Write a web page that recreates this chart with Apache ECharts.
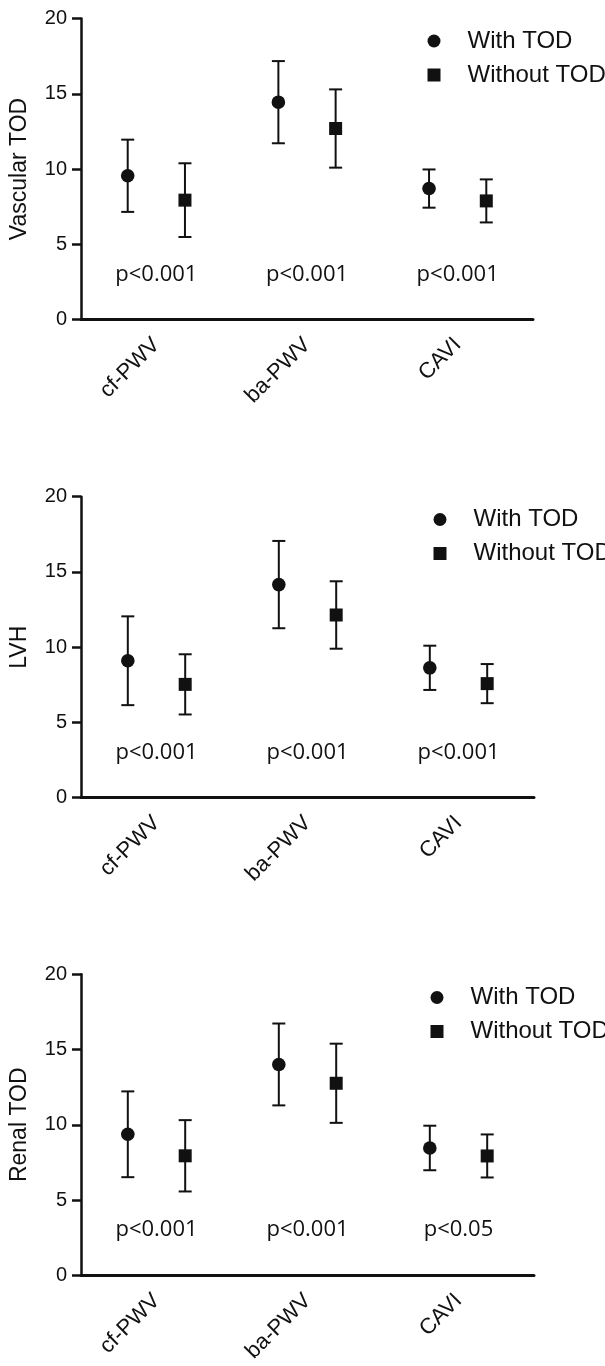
<!DOCTYPE html>
<html lang="en">

<head>
    <meta charset="utf-8">
    <title>TOD panels</title>
    <script type="text/javascript" src="https://cdn.jsdelivr.net/npm/echarts@6/dist/echarts.min.js"></script>
    <style>
        html, body { margin: 0; padding: 0; background: #fff; }
        #Chart { width: 605px; height: 1366px; }
    </style>
</head>

<body>
    <div id="Chart"></div>
    <script type="text/javascript">
        // data: mean and SD per group
        const categories = ['cf-PWV', 'ba-PWV', 'CAVI'];
        const groupNames = ['With TOD', 'Without TOD'];
        const yTickLabels = [0, 5, 10, 15, 20];
        const panelNames = ['Vascular TOD', 'LVH', 'Renal TOD'];

        const vascularWithMean = [9.55, 14.44, 8.70];
        const vascularWithSd = [2.40, 2.73, 1.27];
        const vascularWithoutMean = [7.93, 12.69, 7.88];
        const vascularWithoutSd = [2.45, 2.60, 1.43];
        const vascularP = ['p<0.001', 'p<0.001', 'p<0.001'];

        const lvhWithMean = [9.10, 14.16, 8.63];
        const lvhWithSd = [2.95, 2.90, 1.47];
        const lvhWithoutMean = [7.53, 12.14, 7.58];
        const lvhWithoutSd = [2.00, 2.24, 1.30];
        const lvhP = ['p<0.001', 'p<0.001', 'p<0.001'];

        const renalWithMean = [9.37, 14.01, 8.46];
        const renalWithSd = [2.85, 2.72, 1.48];
        const renalWithoutMean = [7.94, 12.76, 7.93];
        const renalWithoutSd = [2.37, 2.63, 1.43];
        const renalP = ['p<0.001', 'p<0.001', 'p<0.05'];

        const pLabelY = 3;

        const panels = [
            { name: panelNames[0], withMean: vascularWithMean, withSd: vascularWithSd, withoutMean: vascularWithoutMean, withoutSd: vascularWithoutSd, p: vascularP },
            { name: panelNames[1], withMean: lvhWithMean, withSd: lvhWithSd, withoutMean: lvhWithoutMean, withoutSd: lvhWithoutSd, p: lvhP },
            { name: panelNames[2], withMean: renalWithMean, withSd: renalWithSd, withoutMean: renalWithoutMean, withoutSd: renalWithoutSd, p: renalP }
        ];

        // pixel layout of each panel
        const layout = [
            { top: 18.5, left: 80, right: 72, legendLeft: 422.5, legendTop: 24 },
            { top: 496.7, left: 81, right: 71, legendLeft: 428.5, legendTop: 502.5 },
            { top: 974.3, left: 80, right: 71, legendLeft: 425.5, legendTop: 980.5 }
        ];
        const gridHeight = 301;
        const ink = '#111';
        const sansFont = '"Liberation Sans", Arial, sans-serif';

        function errorBarData(means, sds) {
            return means.map(function (m, i) {
                return [i, m, m - sds[i], m + sds[i]];
            });
        }

        function renderGroup(shape, offsetFrac) {
            return function (params, api) {
                const cat = api.value(0);
                const mid = api.coord([cat, api.value(1)]);
                const lo = api.coord([cat, api.value(2)]);
                const hi = api.coord([cat, api.value(3)]);
                const x = mid[0] + api.size([1, 0])[0] * offsetFrac;
                const line = { stroke: ink, lineWidth: 2 };
                const cap = 6.5;
                const children = [
                    { type: 'line', shape: { x1: x, y1: hi[1], x2: x, y2: lo[1] }, style: line },
                    { type: 'line', shape: { x1: x - cap, y1: hi[1], x2: x + cap, y2: hi[1] }, style: line },
                    { type: 'line', shape: { x1: x - cap, y1: lo[1], x2: x + cap, y2: lo[1] }, style: line }
                ];
                if (shape === 'circle') {
                    children.push({ type: 'circle', shape: { cx: x, cy: mid[1], r: 6.8 }, style: { fill: ink } });
                } else {
                    children.push({ type: 'rect', shape: { x: x - 6.5, y: mid[1] - 6.5, width: 13, height: 13 }, style: { fill: ink } });
                }
                return { type: 'group', children: children };
            };
        }

        function renderPLabel(labels) {
            return function (params, api) {
                const pt = api.coord([api.value(0), api.value(1)]);
                return {
                    type: 'text',
                    x: pt[0],
                    y: pt[1],
                    style: {
                        text: labels[params.dataIndex],
                        fill: ink,
                        font: '22px "Open Sans", sans-serif',
                        align: 'center',
                        verticalAlign: 'middle'
                    }
                };
            };
        }

        const grids = [], xAxes = [], yAxes = [], legends = [], series = [];

        panels.forEach(function (panel, k) {
            const lay = layout[k];
            grids.push({ left: lay.left, right: lay.right, top: lay.top, height: gridHeight, containLabel: false });

            xAxes.push({
                type: 'category',
                gridIndex: k,
                data: categories,
                boundaryGap: true,
                axisLine: { lineStyle: { color: ink, width: 3 } },
                axisTick: { alignWithLabel: true, length: 9, lineStyle: { color: ink, width: 3 } },
                axisLabel: { rotate: 45, margin: 22, color: ink, fontSize: 22, fontFamily: sansFont },
                splitLine: { show: false }
            });

            yAxes.push({
                type: 'value',
                gridIndex: k,
                min: yTickLabels[0],
                max: yTickLabels[yTickLabels.length - 1],
                interval: yTickLabels[1] - yTickLabels[0],
                name: panel.name,
                nameLocation: 'middle',
                nameGap: 50,
                nameTextStyle: { color: ink, fontSize: 23, fontFamily: sansFont },
                axisLine: { show: true, lineStyle: { color: ink, width: 2.5 } },
                axisTick: { show: true, length: 9, lineStyle: { color: ink, width: 2.5 } },
                axisLabel: { margin: 14, color: ink, fontSize: 20, fontFamily: sansFont },
                splitLine: { show: false }
            });

            legends.push({
                orient: 'vertical',
                left: lay.legendLeft,
                top: lay.legendTop,
                itemWidth: 13,
                itemHeight: 13,
                itemGap: 10,
                selectedMode: false,
                textStyle: { color: ink, fontSize: 24, lineHeight: 24, fontFamily: sansFont, padding: [0, 0, 0, 22] },
                data: [
                    { name: groupNames[0], icon: 'circle' },
                    { name: groupNames[1], icon: 'rect' }
                ]
            });

            series.push({
                type: 'custom',
                name: groupNames[0],
                xAxisIndex: k,
                yAxisIndex: k,
                itemStyle: { color: ink },
                renderItem: renderGroup('circle', -0.19),
                encode: { x: 0, y: [1, 2, 3] },
                data: errorBarData(panel.withMean, panel.withSd),
                clip: false,
                silent: true
            });
            series.push({
                type: 'custom',
                name: groupNames[1],
                xAxisIndex: k,
                yAxisIndex: k,
                itemStyle: { color: ink },
                renderItem: renderGroup('rect', 0.19),
                encode: { x: 0, y: [1, 2, 3] },
                data: errorBarData(panel.withoutMean, panel.withoutSd),
                clip: false,
                silent: true
            });
            series.push({
                type: 'custom',
                name: 'p',
                xAxisIndex: k,
                yAxisIndex: k,
                renderItem: renderPLabel(panel.p),
                encode: { x: 0, y: 1 },
                data: categories.map(function (c, i) { return [i, pLabelY]; }),
                silent: true
            });
        });

        const chart = echarts.init(document.getElementById('Chart'), null, { renderer: 'canvas' });
        chart.setOption({
            animation: false,
            backgroundColor: '#fff',
            grid: grids,
            xAxis: xAxes,
            yAxis: yAxes,
            legend: legends,
            series: series
        });
    </script>
</body>

</html>
